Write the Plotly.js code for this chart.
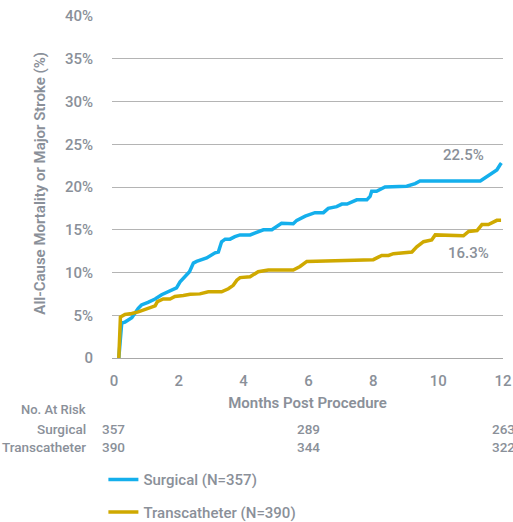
<!DOCTYPE html>
<html>
<head>
<meta charset="utf-8">
<script src="https://cdn.plot.ly/plotly-3.0.1.min.js"></script>
<style>html,body{margin:0;padding:0;background:#fff;}#chart{width:513px;height:522px;}</style>
</head>
<body>
<div id="chart"></div>
<script>
// Months post procedure / cumulative event rate (%)
var surgMonths = [0.15,0.2,0.24,0.34,0.55,0.75,0.85,1.05,1.27,1.47,1.73,1.93,2.04,2.19,2.33,2.45,2.55,2.86,3.12,3.22,3.32,3.43,3.58,3.73,3.89,4.2,4.61,4.87,5.17,5.53,5.64,5.9,6.2,6.46,6.61,6.87,7.03,7.19,7.49,7.8,7.9,7.95,8.1,8.36,9.03,9.29,9.44,11.3,11.6,11.81,11.91,11.95];
var surgRate = [0,2.0,4.1,4.2,4.7,5.8,6.2,6.5,6.9,7.4,7.9,8.2,8.9,9.5,10.1,11.1,11.3,11.7,12.3,12.4,13.6,13.9,13.9,14.2,14.4,14.4,15.0,15.0,15.75,15.7,16.1,16.6,17.0,17.0,17.5,17.7,18.0,18.0,18.5,18.5,18.9,19.5,19.5,20.0,20.1,20.4,20.7,20.7,21.4,22.0,22.6,22.8];
var transMonths = [0.15,0.2,0.34,0.55,0.75,1.01,1.27,1.34,1.52,1.73,1.88,2.14,2.35,2.65,2.91,3.32,3.53,3.68,3.79,3.89,4.2,4.45,4.76,5.53,5.74,5.95,8.0,8.26,8.47,8.62,9.19,9.34,9.55,9.8,9.91,10.78,10.94,11.2,11.35,11.55,11.81,11.94];
var transRate = [0,4.8,5.1,5.2,5.4,5.8,6.1,6.6,6.9,6.9,7.2,7.3,7.45,7.5,7.75,7.75,8.1,8.5,9.1,9.4,9.5,10.1,10.3,10.3,10.7,11.3,11.5,12.0,12.0,12.2,12.4,13.0,13.6,13.8,14.4,14.3,14.8,14.9,15.6,15.6,16.1,16.1];

var seriesNames = ["Surgical (N=357)", "Transcatheter (N=390)"];
var endLabels = ["22.5%", "16.3%"];
var endLabelX = [10.79, 10.94];
var endLabelY = [23.8, 12.25];

var yTickVals = [0,5,10,15,20,25,30,35,40];
var yTickText = ["0","5%","10%","15%","20%","25%","30%","35%","40%"];
var xTickVals = [0,2,4,6,8,10,12];

var riskTimes = [0,6,12];
var riskRows = ["Surgical","Transcatheter"];
var riskSurgical = [357,289,263];
var riskTrans = [390,344,322];

var gray = "#8a9099";
var blue = "#14afec";
var gold = "#cfa900";
var FONT = "Roboto, 'Liberation Sans', Arial, sans-serif";

var traces = [
  {x: surgMonths, y: surgRate, mode: "lines", name: seriesNames[0], legendgroup: "a",
   line: {color: blue, width: 3.5}, hoverinfo: "skip"},
  {x: transMonths, y: transRate, mode: "lines", name: seriesNames[1], legendgroup: "b",
   line: {color: gold, width: 3.5}, hoverinfo: "skip"}
];

var ann = [];
for (var i = 0; i < endLabels.length; i++) {
  ann.push({x: endLabelX[i], y: endLabelY[i], xref: "x", yref: "y", text: endLabels[i],
    xanchor: "center", yanchor: "middle",
    showarrow: false, font: {family: FONT, size: 15, color: gray, weight: 500}});
}
var rowY = [-0.208, -0.261];
ann.push({x: -0.062, y: -0.152, xref: "paper", yref: "paper", xanchor: "right", yanchor: "middle", text: "No. At Risk",
  showarrow: false, font: {family: FONT, size: 13, color: gray, weight: 500}});
for (var r = 0; r < riskRows.length; r++) {
  ann.push({x: -0.062, y: rowY[r], xref: "paper", yref: "paper", xanchor: "right", yanchor: "middle", text: riskRows[r],
    showarrow: false, font: {family: FONT, size: 13.5, color: gray, weight: 500}});
  var vals = r === 0 ? riskSurgical : riskTrans;
  for (var t = 0; t < riskTimes.length; t++) {
    ann.push({x: riskTimes[t], y: rowY[r], xref: "x", yref: "paper", xanchor: "center", yanchor: "middle", text: String(vals[t]),
      showarrow: false, font: {family: FONT, size: 13.5, color: gray, weight: 500}});
  }
}
ann.push({x: -0.184, y: 0.51, xref: "paper", yref: "paper", xanchor: "center", yanchor: "middle",
  text: "All-Cause Mortality or Major Stroke (%)",
  textangle: -90, showarrow: false, font: {family: FONT, size: 15, color: gray, weight: 600}});

var layout = {
  width: 513, height: 522,
  margin: {l: 112, r: 10, t: 16, b: 164, autoexpand: false},
  paper_bgcolor: "#fff", plot_bgcolor: "#fff",
  font: {family: FONT, color: gray},
  showlegend: true,
  legend: {x: -0.022, xanchor: "left", y: -0.308, yanchor: "top", orientation: "v",
    traceorder: "grouped", tracegroupgap: 10,
    font: {family: FONT, size: 15, color: gray, weight: 500}},
  xaxis: {range: [-0.06, 12], tickvals: xTickVals, showgrid: false, zeroline: false, automargin: false,
    showline: true, linecolor: "#a8a8a8", linewidth: 1, ticks: "", ticklabelstandoff: 9,
    tickfont: {family: FONT, size: 15, color: gray, weight: 500},
    title: {text: "Months Post Procedure", standoff: 8, font: {family: FONT, size: 15, color: gray, weight: 600}},
    fixedrange: true},
  yaxis: {range: [0, 40], tickvals: yTickVals, ticktext: yTickText, showgrid: true, automargin: false,
    gridcolor: "#b4b4b4", gridwidth: 1, zeroline: false, showline: false, ticks: "",
    ticklabelstandoff: 18, tickfont: {family: FONT, size: 15, color: gray, weight: 500},
    fixedrange: true},
  annotations: ann
};

Plotly.newPlot("chart", traces, layout, {staticPlot: true, displayModeBar: false});
</script>
</body>
</html>
